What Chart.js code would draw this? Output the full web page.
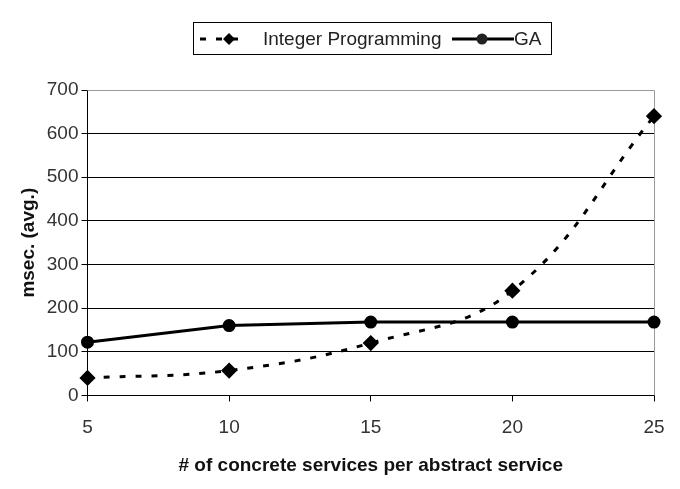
<!DOCTYPE html>
<html>
<head>
<meta charset="utf-8">
<script src="https://cdn.jsdelivr.net/npm/chart.js@4"></script>
<style>
  html, body { margin: 0; padding: 0; background: #fff; }
  #wrap { width: 680px; height: 489px; position: relative; }
</style>
</head>
<body>
<div id="wrap"><canvas id="chart" width="680" height="489"></canvas></div>
<script>
// values
const servicesPerAbstract = ['5', '10', '15', '20', '25'];
const integerProgramming = [40, 57, 120, 240, 640];
const gaTimes = [122, 160, 168, 168, 168];
const yTicks = [0, 100, 200, 300, 400, 500, 600, 700];

const FONT = "'Liberation Sans', Arial, sans-serif";

// legend box drawn by hand: dashed line with diamond, solid line with dot
const boxLegend = {
    id: 'boxLegend',
    afterDraw(chart) {
        const ctx = chart.ctx;
        ctx.save();
        ctx.strokeStyle = '#000';
        ctx.lineWidth = 1;
        ctx.strokeRect(193.5, 22.5, 358, 32);

        const cy = 39;
        // Integer Programming sample
        ctx.lineWidth = 3;
        ctx.setLineDash([6, 10]);
        ctx.beginPath();
        ctx.moveTo(200, cy);
        ctx.lineTo(248, cy);
        ctx.stroke();
        ctx.setLineDash([]);
        ctx.fillStyle = '#000';
        ctx.beginPath();
        ctx.moveTo(229, cy - 6);
        ctx.lineTo(235, cy);
        ctx.lineTo(229, cy + 6);
        ctx.lineTo(223, cy);
        ctx.closePath();
        ctx.fill();

        ctx.font = '19px ' + FONT;
        ctx.fillStyle = '#222';
        ctx.textBaseline = 'middle';
        ctx.fillText('Integer Programming', 263, cy + 1);

        // GA sample
        ctx.beginPath();
        ctx.moveTo(452, cy);
        ctx.lineTo(514, cy);
        ctx.stroke();
        ctx.beginPath();
        ctx.arc(482, cy, 5.5, 0, Math.PI * 2);
        ctx.fill();
        ctx.fillText('GA', 514, cy + 1);
        ctx.restore();
    }
};

// gray frame on top and right like the reference
const plotFrame = {
    id: 'plotFrame',
    beforeDatasetsDraw(chart) {
        const { ctx, chartArea: a } = chart;
        ctx.save();
        ctx.strokeStyle = '#9a9a9a';
        ctx.lineWidth = 1;
        ctx.beginPath();
        ctx.moveTo(a.left, a.top + 0.5);
        ctx.lineTo(a.right + 0.5, a.top + 0.5);
        ctx.lineTo(a.right + 0.5, a.bottom);
        ctx.stroke();
        ctx.restore();
    }
};

new Chart(document.getElementById('chart'), {
    type: 'line',
    data: {
        labels: servicesPerAbstract,
        datasets: [{
            label: 'Integer Programming',
            data: integerProgramming,
            borderColor: '#000',
            backgroundColor: '#000',
            borderWidth: 3,
            borderDash: [6, 10],
            tension: 0.4,
            pointStyle: 'rectRot',
            pointRadius: 6,
            pointHoverRadius: 6
        }, {
            label: 'GA',
            data: gaTimes,
            borderColor: '#000',
            backgroundColor: '#000',
            borderWidth: 3,
            tension: 0,
            pointStyle: 'circle',
            pointRadius: 5,
            pointHoverRadius: 5
        }]
    },
    options: {
        responsive: false,
        animation: false,
        layout: { padding: { top: 90, right: 26, left: 13, bottom: 8 } },
        plugins: {
            legend: { display: false },
            tooltip: { enabled: false }
        },
        scales: {
            x: {
                offset: false,
                grid: {
                    display: true,
                    drawOnChartArea: false,
                    drawTicks: true,
                    tickLength: 6,
                    color: '#000'
                },
                border: { color: '#000', width: 1 },
                ticks: { color: '#333', font: { family: FONT, size: 19 }, padding: 15, maxRotation: 0 },
                title: {
                    display: true,
                    text: '# of concrete services per abstract service',
                    color: '#111',
                    font: { family: FONT, size: 19, weight: 'bold' },
                    padding: { top: 0 }
                }
            },
            y: {
                min: yTicks[0],
                max: yTicks[yTicks.length - 1],
                afterBuildTicks(scale) {
                    scale.ticks = yTicks.map(v => ({ value: v }));
                },
                grid: { color: '#000', lineWidth: 1, tickLength: 6 },
                border: { color: '#000', width: 1 },
                ticks: { color: '#333', font: { family: FONT, size: 19 }, padding: 3 },
                title: {
                    display: true,
                    text: 'msec. (avg.)',
                    color: '#111',
                    font: { family: FONT, size: 19, weight: 'bold' },
                    padding: { bottom: 4 }
                }
            }
        }
    },
    plugins: [boxLegend, plotFrame]
});
</script>
</body>
</html>
